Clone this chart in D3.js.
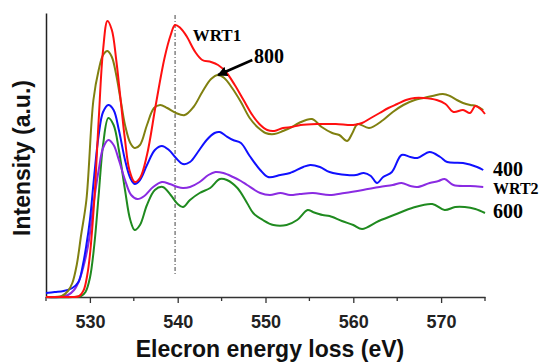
<!DOCTYPE html>
<html>
<head>
<meta charset="utf-8">
<script src="https://cdn.jsdelivr.net/npm/d3@7"></script>
<style>
  html, body { margin: 0; padding: 0; background: #fff; }
  svg { display: block; }
</style>
</head>
<body>
<div id="chart"></div>
<script>
// Spectra: [energy (eV), intensity (a.u.)]
const wrt1 = [
  [525,0],[527,0],[528.8,1],[529.3,7],[529.7,22],[530,42],[530.5,97],[531,177],[531.5,247],
  [532,276],[532.5,267],[533,237],[533.5,197],[534,157],[534.5,127],[535.1,115],[535.7,119],
  [536.5,142],[537.5,192],[538.5,239],[539.2,262],[539.7,272],[540.3,269],[541,261],[542,245],
  [542.8,237],[543.8,235],[544.6,232],[545.5,225],[546.5,212],[547.5,197],[548.5,182],[549.3,173],
  [550.2,167],[551,166],[552,169],[553,170],[554,172],[556,173],[558,173],[560,172],[561,174],
  [562,179],[563,184],[564,189],[565,193],[566,197],[567,199],[568,199],[569.5,197],[570.5,193],
  [571.4,185],[572.5,187],[573.3,184],[573.9,191],[574.5,188],[575,183]
];
const s800 = [
  [525,0],[526.8,1],[527.5,6],[528,14],[528.5,32],[529,62],[529.6,97],[530.4,197],[531,227],
  [531.5,242],[532,246],[532.5,240],[533,222],[533.5,197],[534,172],[534.6,154],[535.1,149],
  [535.7,152],[536.5,172],[537.3,189],[538,192],[538.8,189],[539.8,184],[540.8,182],[541.8,190],
  [542.8,205],[543.8,218],[544.6,222],[545.3,219],[546.2,209],[547.2,195],[548.2,179],[549.2,169],
  [550,164],[551,163],[552,166],[553,170],[553.8,174],[555.3,178],[556.4,170],[557.6,164],
  [558.4,162],[559.3,156],[559.9,164],[560.5,173],[561.8,169],[563.4,177],[564.5,185],[565.7,192],
  [567,197],[568,199],[569,201],[570.2,203],[571,201],[571.8,197],[572.5,194],[573.3,192],
  [574,191],[574.8,187]
];
const s400 = [
  [525,4],[526,5],[527,6],[528,9],[528.7,15],[529.2,32],[529.6,52],[530,77],[530.5,122],[531,162],
  [531.5,185],[532.1,192],[532.7,187],[533.3,167],[534,137],[534.6,119],[535.1,113],[535.7,117],
  [536.5,132],[537.4,147],[538.2,151],[539,147],[539.8,139],[540.6,133],[541.4,135],[542.3,145],
  [543.3,157],[544.2,164],[544.8,165],[545.5,161],[546.3,157],[547.2,154],[548.2,141],[549.4,127],
  [550.3,120],[551.7,122],[552.8,124],[554.3,130],[555.1,132],[556.2,130],[557.3,125],[559.3,122],
  [560.3,122],[561.2,124],[562,121],[562.7,114],[563.4,120],[564.4,125],[565.5,142],[566.5,140],
  [567.3,139],[568.7,145],[569.9,140],[570.7,135],[572.5,134],[574.1,130],[574.8,127]
];
const wrt2 = [
  [525,0],[526.5,0],[527.5,2],[528.2,7],[528.8,17],[529.4,35],[529.9,57],[530.4,92],[531,127],
  [531.5,149],[532.1,157],[532.7,152],[533.3,137],[534,117],[534.7,102],[535.4,98],[536.2,101],
  [537.2,110],[538.2,115],[539.1,113],[540,110],[540.6,109],[541.4,110],[542.5,115],[543.5,122],
  [544.3,125],[545.2,124],[546.3,120],[547.2,116],[547.9,112],[549.4,104],[550.5,102],[551.7,104],
  [552.8,102],[553.9,103],[555.4,104],[557.3,102],[559,104],[561.1,107],[563,110],[564.5,112],
  [565.5,114],[566.5,111],[567.3,110],[568.7,114],[569.7,116],[570.4,118],[571.4,112],[573.3,111],
  [574.8,110]
];
const s600 = [
  [525,0],[528,0],[529,1],[529.5,5],[530,19],[530.5,52],[531,102],[531.5,152],[532.1,179],
  [532.7,172],[533.3,147],[534,107],[534.6,77],[535.1,67],[535.7,72],[536.5,92],[537.4,107],
  [538.3,110],[539.2,102],[540,93],[540.6,90],[541.4,97],[542.5,104],[543.7,109],[544.8,118],
  [545.6,117],[546.8,109],[547.9,94],[548.6,84],[549.7,77],[550.9,72],[552.4,72],[553.6,77],
  [554.8,87],[555.4,85],[556.5,82],[557.3,81],[558.7,76],[560,72],[561,68],[562.9,76],[565.2,84],
  [566.7,89],[569,93],[570.4,87],[571.6,90],[572.7,90],[573.9,88],[575,84]
];

const seriesNames = ["600", "WRT2", "400", "800", "WRT1"];
const seriesData = [s600, wrt2, s400, s800, wrt1];
const seriesColors = ["#1f8a1f", "#8a2be2", "#1010ff", "#808010", "#ff1010"];

const xDomain = [525, 575];
const yDomain = [0, 284];
const majorTicks = [530, 540, 550, 560, 570];
const minorTicks = [525, 535, 545, 555, 565, 575];

// reference line and annotations (data coordinates)
const refLine = { e: 539.7, from: 22, to: 282 };
const labels = [
  { text: "WRT1", e: 541.7, v: 256, size: 17 },
  { text: "800", e: 548.7, v: 234, size: 20 },
  { text: "400", e: 575.9, v: 121, size: 20 },
  { text: "WRT2", e: 575.9, v: 103, size: 16 },
  { text: "600", e: 575.9, v: 79, size: 20 }
];
const arrow = { from: [548.5, 237], to: [544.6, 222] };

const width = 544, height = 362;
const svg = d3.select("#chart").append("svg")
  .attr("width", width).attr("height", height);

const x = d3.scaleLinear().domain(xDomain).range([46, 485]);
const y = d3.scaleLinear().domain(yDomain).range([297, 13]);

// axes
const xAxis = svg.append("g").attr("transform", `translate(0,${y(0)})`)
  .call(d3.axisBottom(x).tickValues(majorTicks).tickSize(6).tickSizeOuter(0).tickFormat(d3.format("d")));
xAxis.select(".domain").attr("stroke", "#333").attr("stroke-width", 1.5);
xAxis.selectAll(".tick line").attr("stroke", "#333").attr("stroke-width", 1.3);
xAxis.selectAll(".tick text")
  .attr("dy", 0).attr("y", 31)
  .style("font-family", "Arial, 'Liberation Sans', sans-serif")
  .style("font-size", "18px").style("font-weight", "bold").attr("fill", "#222");

svg.append("g").selectAll("line").data(minorTicks).join("line")
  .attr("x1", d => x(d)).attr("x2", d => x(d))
  .attr("y1", y(0)).attr("y2", y(0) + 4)
  .attr("stroke", "#333").attr("stroke-width", 1.3);

const yAxis = svg.append("g").attr("transform", `translate(${x(525)},0)`)
  .call(d3.axisLeft(y).tickValues([]).tickSizeOuter(0));
yAxis.select(".domain").attr("stroke", "#222").attr("stroke-width", 1.5);

// titles
svg.append("text")
  .attr("x", 270).attr("y", 357)
  .attr("text-anchor", "middle")
  .style("font-family", "Arial, 'Liberation Sans', sans-serif")
  .style("font-size", "23px").style("font-weight", "bold").attr("fill", "#111")
  .text("Elecron energy loss (eV)");

svg.append("text")
  .attr("transform", "translate(30,158) rotate(-90)")
  .attr("text-anchor", "middle")
  .style("font-family", "Arial, 'Liberation Sans', sans-serif")
  .style("font-size", "23px").style("font-weight", "bold").attr("fill", "#111")
  .text("Intensity (a.u.)");

// dash-dot reference line
svg.append("line")
  .attr("x1", x(refLine.e)).attr("x2", x(refLine.e))
  .attr("y1", y(refLine.to)).attr("y2", y(refLine.from))
  .attr("stroke", "#444").attr("stroke-width", 1)
  .attr("stroke-dasharray", "4,2,1,2");

// spectra
const line = d3.line()
  .x(d => x(d[0])).y(d => y(d[1]))
  .curve(d3.curveCatmullRom.alpha(0.5));

svg.append("g").selectAll("path").data(seriesData).join("path")
  .attr("d", line)
  .attr("fill", "none")
  .attr("stroke", (d, i) => seriesColors[i])
  .attr("stroke-width", 2)
  .attr("stroke-linejoin", "round");

// annotations
svg.append("g").selectAll("text").data(labels).join("text")
  .attr("x", d => x(d.e)).attr("y", d => y(d.v))
  .style("font-family", "'Times New Roman', 'Liberation Serif', serif")
  .style("font-weight", "bold")
  .style("font-size", d => d.size + "px")
  .attr("fill", "#000")
  .text(d => d.text);

svg.append("defs").append("marker")
  .attr("id", "head").attr("viewBox", "0 0 10 10")
  .attr("refX", 9).attr("refY", 5)
  .attr("markerWidth", 4).attr("markerHeight", 4)
  .attr("orient", "auto")
  .append("path").attr("d", "M0,0L10,5L0,10z").attr("fill", "#000");

svg.append("line")
  .attr("x1", x(arrow.from[0])).attr("y1", y(arrow.from[1]))
  .attr("x2", x(arrow.to[0])).attr("y2", y(arrow.to[1]))
  .attr("stroke", "#000").attr("stroke-width", 2.5)
  .attr("marker-end", "url(#head)");
</script>
</body>
</html>
